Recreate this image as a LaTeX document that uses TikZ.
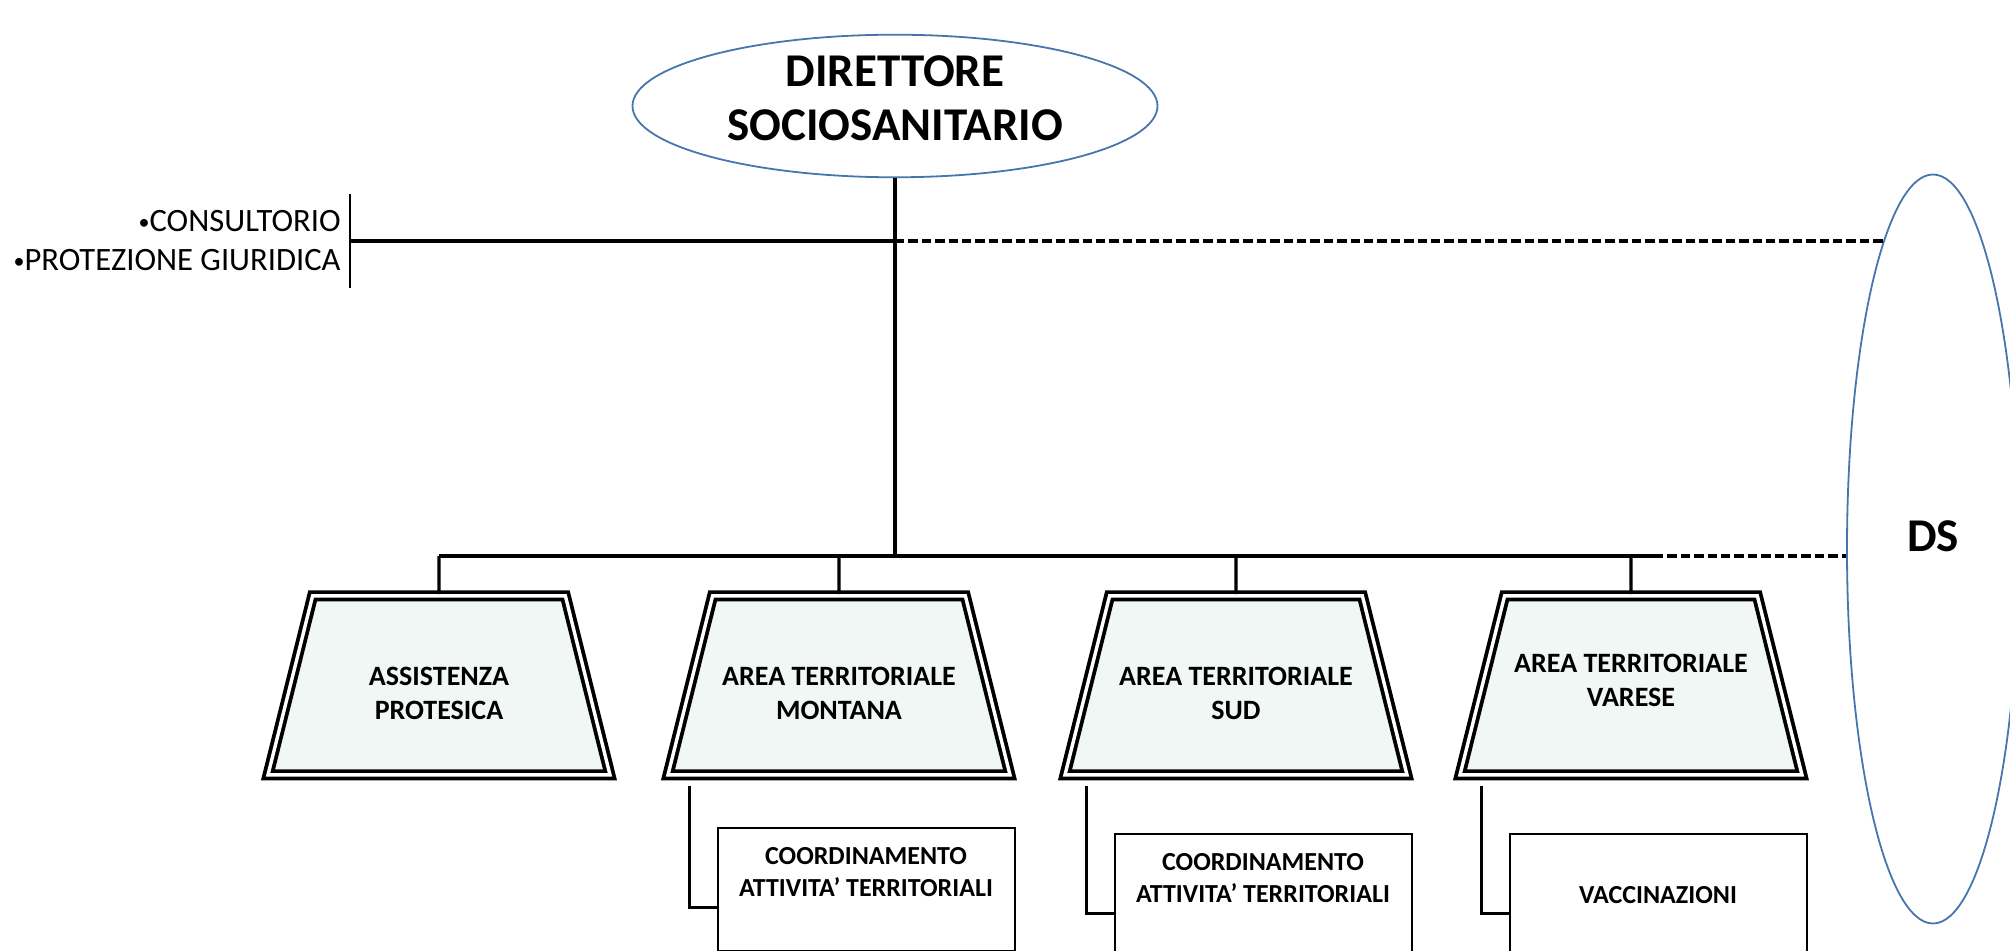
\documentclass[tikz,border=0pt]{standalone}
\usepackage{fontspec}
\setmainfont{Carlito}
\usetikzlibrary{positioning,shapes.geometric}
\definecolor{ellblue}{RGB}{70,118,172}
\definecolor{areafill}{RGB}{241,247,244}
\newcommand{\blt}{{\fontsize{11}{11}\selectfont\raisebox{1.3pt}{•}}}

\begin{document}
\begin{tikzpicture}[x=0.5pt,y=-0.5pt,
    conn/.style={line width=1.7pt},
    dashline/.style={line width=1.6pt,dash pattern=on 4.7pt off 2pt},
    bigell/.style={ellipse,draw=ellblue,line width=0.9pt,inner sep=0pt,align=center,
      font=\bfseries\fontsize{23.5}{27}\selectfont},
    area/.style={trapezium,trapezium left angle=76,trapezium right angle=76,
      trapezium stretches body=true,minimum width=171pt,minimum height=89.5pt,
      text height=34pt,text depth=0pt,inner ysep=27.75pt,
      draw,line width=1.9pt,double=white,double distance=1.7pt,fill=areafill,
      align=center,font=\bfseries\fontsize{14}{17}\selectfont},
    sub/.style={rectangle,draw,line width=1pt,minimum width=148.5pt,
      minimum height=61.5pt,align=center,font=\bfseries\fontsize{13}{16}\selectfont}]
                \useasboundingbox (0,0) rectangle (2010,951);
                \node[bigell,minimum width=262.5pt,minimum height=68pt,text depth=8pt] (dir) at (895,106) {DIRETTORE\\SOCIOSANITARIO};
                \node[bigell,minimum width=86pt,minimum height=374.5pt,text depth=13pt] (ds) at (1933,549) {DS};
                \node[anchor=east,align=right,inner xsep=4.5pt,inner ysep=8pt,
                  font=\fontsize{16.3}{19.5}\selectfont] (svc) at (350,241) {\blt CONSULTORIO\\\blt PROTEZIONE GIURIDICA};
                \coordinate (jt) at (dir.south |- svc.east);
                \coordinate (b1) at (439,556);
                \coordinate (b2) at (839,556);
                \coordinate (b3) at (1236,556);
                \coordinate (b4) at (1631,556);
                \coordinate (be) at (1654,556);
                \node[area,below=19pt of b1] (ap) {ASSISTENZA\\PROTESICA};
                \node[area,below=19pt of b2] (atm) {AREA TERRITORIALE\\MONTANA};
                \node[area,below=19pt of b3] (ats) {AREA TERRITORIALE\\SUD};
                \node[area,text height=27.5pt,text depth=6.5pt,below=19pt of b4] (atv) {AREA TERRITORIALE\\VARESE};
                \node[sub,text depth=17pt,below right=25pt and 25.5pt of atm.bottom left corner] (cm) {COORDINAMENTO\\ATTIVITA' TERRITORIALI};
                \node[sub,text depth=17pt,below right=28pt and 25.5pt of ats.bottom left corner] (cs) {COORDINAMENTO\\ATTIVITA' TERRITORIALI};
                \node[sub,below right=28pt and 25.5pt of atv.bottom left corner] (vac) {VACCINAZIONI};
                % top branch
                \draw[line width=1pt] (svc.north east) -- (svc.south east);
                \draw[conn] (svc.east) -- (jt);
                \draw[dashline] (jt) -- (jt -| ds.99.3);
                % bus
                \draw[conn] (dir) -- (dir |- b1);
                \draw[conn] (b1) -- (be);
                \draw[dashline] (be) -- (be -| ds.west);
                \foreach \b/\n in {b1/ap,b2/atm,b3/ats,b4/atv}
                  \draw[conn] (\b) -- (\n);
                \foreach \a/\s in {atm/cm,ats/cs,atv/vac}
                  \draw[conn] ([shift={(12pt,-4.5pt)}]\a.bottom left corner) |- ([yshift=-9pt]\s.west);
\end{tikzpicture}
\end{document}
